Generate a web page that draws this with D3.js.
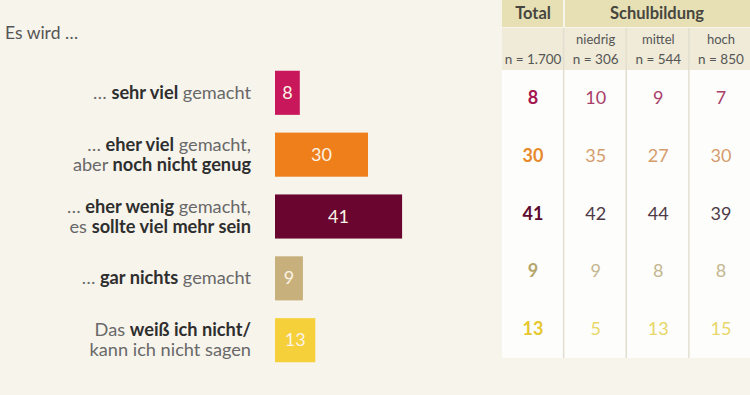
<!DOCTYPE html>
<html>
<head>
<meta charset="utf-8">
<script src="https://cdn.jsdelivr.net/npm/d3@7"></script>
<style>
  html, body { margin: 0; padding: 0; background: #f7f4ec; }
  svg { display: block; font-family: Lato, "Open Sans", sans-serif; }
</style>
</head>
<body>
<svg id="chart" width="750" height="395"></svg>
<script>
// answer labels, each line is a list of [text, bold]
const labels = [
  [[["… ", false], ["sehr viel", true], [" gemacht", false]]],
  [[["… ", false], ["eher viel", true], [" gemacht,", false]],
   [["aber ", false], ["noch nicht genug", true]]],
  [[["… ", false], ["eher wenig", true], [" gemacht,", false]],
   [["es ", false], ["sollte viel mehr sein", true]]],
  [[["… ", false], ["gar nichts", true], [" gemacht", false]]],
  [[["Das ", false], ["weiß ich nicht/", true]],
   [["kann ich nicht sagen", false]]]
];
const totals = [8, 30, 41, 9, 13];
const niedrig = [10, 35, 42, 9, 5];
const mittel = [9, 27, 44, 8, 13];
const hoch = [7, 30, 39, 8, 15];
const groups = ["niedrig", "mittel", "hoch"];
const groupN = ["n = 306", "n = 544", "n = 850"];
const totalN = "n = 1.700";

const barColors = ["#c8175a", "#ee7f1b", "#6a0530", "#c8b07c", "#f6d03a"];
const totalColors = ["#a5154f", "#e8892b", "#5c0a2e", "#b6a66c", "#e6c72e"];
const groupColors = ["#a8406a", "#d59c6c", "#4e3a46", "#c4b78f", "#e8d666"];

const svg = d3.select("#chart");
const idx = d3.range(totals.length);

// bars
const x = d3.scaleLinear().domain([0, 100]).range([275, 585]);
const y = d3.scaleBand().domain(idx).range([53, 380]).padding(0.287);

svg.append("text")
  .attr("x", 5).attr("y", 39)
  .attr("font-size", 17.5).attr("fill", "#555")
  .text("Es wird …");

const rows = svg.selectAll("g.row").data(idx).join("g").attr("class", "row");

rows.append("rect")
  .attr("x", x(0))
  .attr("y", i => y(i))
  .attr("width", i => x(totals[i]) - x(0))
  .attr("height", y.bandwidth())
  .attr("fill", i => barColors[i]);

rows.append("text")
  .attr("x", i => (x(0) + x(totals[i])) / 2)
  .attr("y", i => y(i) + y.bandwidth() / 2 + 6)
  .attr("text-anchor", "middle")
  .attr("font-size", 18)
  .attr("fill", "#fbf3e6")
  .text(i => totals[i]);

rows.each(function(i) {
  const lines = labels[i];
  const cy = y(i) + y.bandwidth() / 2;
  const lh = 20;
  lines.forEach((line, j) => {
    const t = d3.select(this).append("text")
      .attr("x", 251)
      .attr("y", cy + (j - (lines.length - 1) / 2) * lh + 6)
      .attr("text-anchor", "end")
      .attr("font-size", 18.2);
    line.forEach(([s, b]) => {
      t.append("tspan")
        .attr("font-weight", b ? 700 : 400)
        .attr("fill", b ? "#2e2e2e" : "#686868")
        .text(s);
    });
  });
});

// table
const cols = ["Total"].concat(groups);
const colX = d3.scaleBand().domain(d3.range(4)).range([502, 752]).paddingInner(0.008);
const tr = d3.scalePoint().domain(idx).range([98, 329]);
const colVals = [totals, niedrig, mittel, hoch];

svg.append("rect").attr("x", 502).attr("y", 70).attr("width", 248).attr("height", 288).attr("fill", "#fdfdfb");
svg.append("rect").attr("x", 502).attr("y", 0).attr("width", 61).attr("height", 27).attr("fill", "#e7e0b5");
svg.append("rect").attr("x", 565).attr("y", 0).attr("width", 185).attr("height", 27).attr("fill", "#e7e0b5");
svg.append("rect").attr("x", 502).attr("y", 28).attr("width", 248).attr("height", 42).attr("fill", "#efebd8");

d3.range(1, 4).forEach(c => {
  svg.append("line")
    .attr("x1", colX(c) - 1).attr("x2", colX(c) - 1)
    .attr("y1", 28).attr("y2", 358)
    .attr("stroke", "#e2dfd0").attr("stroke-width", 1.5);
});

svg.append("text")
  .attr("x", colX(0) + colX.bandwidth() / 2).attr("y", 19)
  .attr("text-anchor", "middle").attr("font-size", 16.5).attr("font-weight", 700)
  .attr("fill", "#46463e").text(cols[0]);
svg.append("text")
  .attr("x", 657).attr("y", 19)
  .attr("text-anchor", "middle").attr("font-size", 16.5).attr("font-weight", 700)
  .attr("fill", "#46463e").text("Schulbildung");

groups.forEach((g, k) => {
  svg.append("text")
    .attr("x", colX(k + 1) + colX.bandwidth() / 2).attr("y", 44)
    .attr("text-anchor", "middle").attr("font-size", 13)
    .attr("fill", "#555").text(g);
});
[totalN].concat(groupN).forEach((n, k) => {
  svg.append("text")
    .attr("x", colX(k) + colX.bandwidth() / 2).attr("y", 64)
    .attr("text-anchor", "middle").attr("font-size", 13.5)
    .attr("fill", "#555").text(n);
});

colVals.forEach((vals, c) => {
  svg.selectAll(null).data(idx).join("text")
    .attr("x", colX(c) + colX.bandwidth() / 2)
    .attr("y", i => tr(i) + 6)
    .attr("text-anchor", "middle")
    .attr("font-size", 18)
    .attr("font-weight", c === 0 ? 700 : 400)
    .attr("fill", i => c === 0 ? totalColors[i] : groupColors[i])
    .text(i => vals[i]);
});
</script>
</body>
</html>
